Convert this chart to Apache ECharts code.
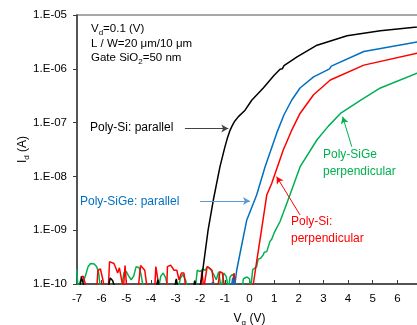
<!DOCTYPE html>
<html>
<head>
<meta charset="utf-8">
<script src="https://cdn.jsdelivr.net/npm/echarts@6/dist/echarts.min.js"></script>
<style>
  html, body { margin: 0; padding: 0; background: #fff; }
  #chart { width: 417px; height: 325px; }
</style>
</head>
<body>
<div id="chart"></div>
<script>
// tick labels
const xTickLabels = ["-7", "-6", "-5", "-4", "-3", "-2", "-1", "0", "1", "2", "3", "4", "5", "6", ""];
const yTickLabels = ["1.E-10", "1.E-09", "1.E-08", "1.E-07", "1.E-06", "1.E-05"];

// Poly-Si: parallel (black)
const siParV = [-7.0, -6.9, -6.82, -6.75, -6.68, -5.75, -5.65, -5.55, -5.45, -3.8, -3.72, -3.64, -3.05, -2.97, -2.9, -2.3, -2.22, -2.15, -1.98,
  -1.94, -1.68, -1.47, -1.2, -1.0, -0.9, -0.8, -0.7, -0.6, -0.45, -0.18, 0.09, 0.56, 1.0, 1.24, 1.33, 1.4, 1.93, 2.74, 3.96, 5.31, 6.8, 7.0];
const siParI = [0.8e-10, 0.8e-10, 1.35e-10, 1.3e-10, 0.8e-10, 0.8e-10, 1.3e-10, 1.15e-10, 0.8e-10, 0.8e-10, 1.2e-10, 0.8e-10, 0.8e-10, 1.25e-10, 0.8e-10, 0.8e-10, 1.15e-10, 0.8e-10, 1.0e-10,
  1.29e-10, 1.0e-9, 3.6e-9, 1.5e-8, 3.5e-8, 5.1e-8, 7.0e-8, 8.8e-8, 1.06e-7, 1.29e-7, 1.7e-7, 2.6e-7, 4.4e-7, 7.6e-7, 9.8e-7, 1.0e-6, 1.15e-6, 1.66e-6, 2.75e-6, 4.1e-6, 5.1e-6, 6.0e-6, 6.2e-6];

// Poly-SiGe: parallel (blue)
const siGeParV = [-7.0, -1.55, -1.5, -1.45, -0.75, -0.68, -0.62, -0.59,
  -0.52, -0.32, -0.11, 0.29, 0.63, 1.1, 1.4, 1.71, 2.05, 2.6, 3.25, 3.32, 4.64, 6.8, 7.0];
const siGeParI = [0.8e-10, 0.8e-10, 1.1e-10, 0.8e-10, 0.8e-10, 1.3e-10, 0.8e-10, 1.0e-10,
  1.8e-10, 5.2e-10, 1.55e-9, 4.5e-9, 1.5e-8, 6.3e-8, 1.4e-7, 2.6e-7, 4.4e-7, 7.1e-7, 1.0e-6, 1.12e-6, 2.1e-6, 3.16e-6, 3.25e-6];

// Poly-Si: perpendicular (red)
const siPerpV = [-6.85, -6.75, -6.6, -6.2, -6.15, -6.05, -5.95, -5.88, -5.73, -5.68, -5.6, -5.5, -5.43, -5.35, -5.28, -5.2, -5.12, -5.05, -4.98,
  -4.52, -4.42, -4.34, -4.25, -4.15, -3.85, -3.8, -3.73, -3.66, -3.36, -3.33, -3.2, -3.06, -2.95, -2.86, -2.76, -2.66, -2.58,
  -2.0, -1.93, -1.86, -1.72, -1.63, -1.52, -1.43, -1.3, -1.2, -1.1, -1.0, -0.7, -0.63, -0.55, 0.155,
  0.29, 0.5, 0.7, 0.9, 1.37, 1.7, 2.05, 2.6, 3.28, 4.64, 6.8, 7.0];
const siPerpI = [1.35e-10, 1.4e-10, 0.8e-10, 0.8e-10, 1.8e-10, 1.9e-10, 1.2e-10, 0.8e-10, 0.8e-10, 2.6e-10, 2.65e-10, 2.4e-10, 2.0e-10, 1.6e-10, 2.0e-10, 1.9e-10, 0.8e-10, 2.2e-10, 0.8e-10,
  0.8e-10, 2.2e-10, 2.1e-10, 1.8e-10, 0.8e-10, 0.8e-10, 2.1e-10, 2.0e-10, 0.8e-10, 0.8e-10, 2.1e-10, 2.25e-10, 1.8e-10, 1.8e-10, 1.2e-10, 1.6e-10, 1.6e-10, 0.8e-10,
  0.8e-10, 1.8e-10, 0.8e-10, 2.1e-10, 2.0e-10, 1.8e-10, 0.8e-10, 0.8e-10, 1.7e-10, 1.6e-10, 0.8e-10, 0.8e-10, 1.6e-10, 0.8e-10, 1.0e-10,
  2.6e-10, 1.1e-9, 4.5e-9, 7.4e-9, 3.1e-8, 7.0e-8, 1.48e-7, 3.3e-7, 6.2e-7, 1.17e-6, 1.95e-6, 2.0e-6];

// Poly-SiGe perpendicular (green)
const siGePerpV = [-7.02, -6.95, -6.85, -6.76, -6.66, -6.55, -6.45, -6.3, -6.2, -6.12, -6.05, -5.2, -5.1, -5.0, -4.9, -4.8, -4.7, -4.6, -4.48, -4.4, -4.3,
  -3.7, -3.6, -3.5, -3.4, -3.3, -2.9, -2.8, -2.7, -2.6, -2.5, -2.2, -2.12, -2.0, -1.9, -1.8, -1.7, -1.55, -1.45, -1.35, -1.25, -1.15, -1.05, -0.95, -0.85,
  -0.79, -0.7, -0.6, -0.55, -0.3, -0.25, -0.1, 0.0, 0.05,
  0.13, 0.29, 0.35, 0.45, 0.56, 0.6, 0.7, 0.83, 0.9, 0.95, 1.0, 1.24, 1.64, 2.05, 2.74, 3.2, 3.69, 4.5, 5.31, 6.8, 7.0];
const siGePerpI = [1.9e-10, 0.8e-10, 1.2e-10, 1.1e-10, 1.4e-10, 2.1e-10, 2.4e-10, 2.35e-10, 2.1e-10, 1.6e-10, 0.8e-10, 0.8e-10, 1.6e-10, 1.7e-10, 1.4e-10, 1.2e-10, 1.4e-10, 2.1e-10, 2.0e-10, 1.5e-10, 0.8e-10,
  0.8e-10, 1.4e-10, 1.6e-10, 1.3e-10, 0.8e-10, 0.8e-10, 1.3e-10, 1.5e-10, 1.2e-10, 0.8e-10, 0.8e-10, 1.8e-10, 1.7e-10, 1.9e-10, 1.8e-10, 2.1e-10, 1.8e-10, 1.5e-10, 1.2e-10, 1.7e-10, 0.8e-10, 1.6e-10, 1.4e-10, 0.8e-10,
  1.35e-10, 1.5e-10, 1.35e-10, 0.8e-10, 0.8e-10, 1.25e-10, 1.35e-10, 1.25e-10, 0.8e-10,
  1.85e-10, 2.1e-10, 2.9e-10, 3.0e-10, 3.5e-10, 3.9e-10, 4.0e-10, 6.2e-10, 6.8e-10, 6.9e-10, 8.9e-10, 1.45e-9, 4.5e-9, 1.5e-8, 4.8e-8, 8.6e-8, 1.48e-7, 2.6e-7, 4.4e-7, 8.3e-7, 8.6e-7];

const zip = (xs, ys) => xs.map((x, i) => [x, ys[i]]);

const FONT = "Liberation Sans";
const BLACK = "#000000";
const BLUE = "#0070C0";
const RED = "#FF0000";
const GREEN = "#00B050";

function arrow(color, from, to) {
  return {
    silent: true,
    symbol: ["none", "arrow"],
    symbolSize: [6, 7],
    label: { show: false },
    lineStyle: { color: color, width: 1, type: "solid" },
    emphasis: { disabled: true },
    data: [[{ coord: from }, { coord: to }]]
  };
}

function series(name, color, xs, ys, markLine) {
  return {
    name: name,
    type: "line",
    data: zip(xs, ys),
    showSymbol: false,
    clip: true,
    lineStyle: { color: color, width: 1.5 },
    itemStyle: { color: color },
    markLine: markLine
  };
}

const chart = echarts.init(document.getElementById("chart"));

const option = {
  animation: false,
  grid: {
    left: 77, width: 345, top: 15, height: 269,
    outerBoundsMode: "none",
    containLabel: false,
    show: true, borderColor: "#8c8c8c", borderWidth: 1.5
  },
  xAxis: {
    type: "value",
    min: -7, max: 7, interval: 1,
    name: "{a|V}{s|g}{a| (V)}",
    nameLocation: "middle",
    nameGap: 27,
    nameTextStyle: {
      rich: {
        a: { fontFamily: FONT, fontSize: 12, color: "#000" },
        s: { fontFamily: FONT, fontSize: 8, color: "#000", verticalAlign: "bottom", padding: [8, 0, 0, 0] }
      }
    },
    axisLine: { onZero: false, lineStyle: { color: "#3a3a3a", width: 1.5 } },
    axisTick: { inside: true, length: 4, lineStyle: { color: "#3a3a3a" } },
    splitLine: { show: false },
    axisLabel: {
      margin: 9, fontFamily: FONT, fontSize: 11.5, color: "#000",
      formatter: (v) => xTickLabels[Math.round(v) + 7]
    }
  },
  yAxis: {
    type: "log",
    logBase: 10,
    min: 1e-10, max: 1e-5,
    name: "{a|I}{s|d}{a| (A)}",
    nameLocation: "middle",
    nameGap: 46,
    nameMoveOverlap: false,
    nameRotate: 90,
    nameTextStyle: {
      rich: {
        a: { fontFamily: FONT, fontSize: 12, color: "#000" },
        s: { fontFamily: FONT, fontSize: 8, color: "#000", verticalAlign: "bottom", padding: [8, 0, 0, 0] }
      }
    },
    axisLine: { show: true, onZero: false, lineStyle: { color: "#3a3a3a", width: 1.5 } },
    axisTick: { show: true, inside: false, length: 4, lineStyle: { color: "#3a3a3a" } },
    minorTick: { show: false },
    splitLine: { show: false },
    axisLabel: {
      margin: 10, fontFamily: FONT, fontSize: 11.5, color: "#000",
      formatter: (v) => yTickLabels[Math.round(Math.log10(v)) + 10]
    }
  },
  series: [
    series("Poly-SiGe perpendicular", GREEN, siGePerpV, siGePerpI, arrow(GREEN, [4.15, 3.56e-8], [3.78, 1.29e-7])),
    series("Poly-Si: perpendicular", RED, siPerpV, siPerpI, arrow(RED, [2.05, 1.92e-9], [1.1, 9.9e-9])),
    series("Poly-SiGe: parallel", BLUE, siGeParV, siGeParI, arrow("#5B9BD5", [-2.01, 3.49e-9], [0.02, 3.49e-9])),
    series("Poly-Si: parallel", BLACK, siParV, siParI, arrow("#444444", [-2.62, 7.8e-8], [-0.86, 7.8e-8]))
  ],
  graphic: [
    {
      type: "text", left: 91, top: 23,
      style: {
        text: "{a|V}{s|d}{a|=0.1 (V)}",
        rich: {
          a: { fontFamily: FONT, fontSize: 11.5, fill: "#000" },
          s: { fontFamily: FONT, fontSize: 8, fill: "#000", padding: [7, 0, 0, 0] }
        }
      }
    },
    {
      type: "text", left: 91, top: 38,
      style: { text: "L / W=20 \u03bcm/10 \u03bcm", font: "11.5px " + FONT, fill: "#000" }
    },
    {
      type: "text", left: 91, top: 52,
      style: {
        text: "{a|Gate SiO}{s|2}{a|=50 nm}",
        rich: {
          a: { fontFamily: FONT, fontSize: 11.5, fill: "#000" },
          s: { fontFamily: FONT, fontSize: 8, fill: "#000", padding: [7, 0, 0, 0] }
        }
      }
    },
    {
      type: "text", left: 90, top: 122,
      style: { text: "Poly-Si: parallel", font: "12px " + FONT, fill: BLACK }
    },
    {
      type: "text", left: 80, top: 196,
      style: { text: "Poly-SiGe: parallel", font: "12px " + FONT, fill: BLUE }
    },
    {
      type: "text", left: 291, top: 213,
      style: { text: "Poly-Si:\nperpendicular", font: "12px " + FONT, fill: RED, lineHeight: 17 }
    },
    {
      type: "text", left: 323, top: 146,
      style: { text: "Poly-SiGe\nperpendicular", font: "12px " + FONT, fill: GREEN, lineHeight: 17 }
    }
  ]
};

chart.setOption(option);
</script>
</body>
</html>
